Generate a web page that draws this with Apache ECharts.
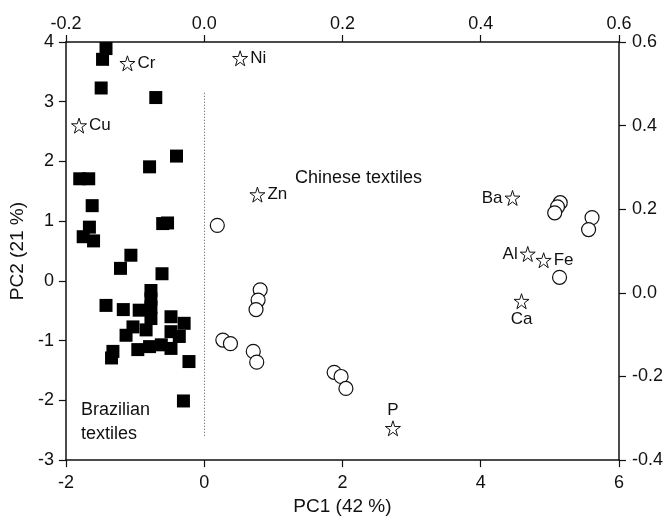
<!DOCTYPE html>
<html>
<head>
<meta charset="utf-8">
<script src="https://cdn.jsdelivr.net/npm/echarts@6/dist/echarts.min.js"></script>
<style>
  html, body { margin: 0; padding: 0; background: #fff; }
  #chart { width: 667px; height: 521px; }
</style>
</head>
<body>
<div id="chart"></div>
<script>
// PCA scores (bottom / left axes)
const brazilPC1 = [-1.42, -1.47, -1.49, -0.70, -0.40, -0.79, -1.80, -1.67, -1.62, -1.66, -1.75, -1.60,
  -0.60, -0.53, -1.06, -1.21, -0.61, -0.77, -1.42, -1.17, -0.94, -0.77, -0.77, -0.77, -0.48, -0.29,
  -1.03, -0.84, -1.13, -0.48, -0.36, -0.96, -0.79, -0.62, -0.48, -1.32, -1.34, -0.22, -0.30];
const brazilPC2 = [3.89, 3.71, 3.23, 3.07, 2.09, 1.91, 1.71, 1.71, 1.26, 0.90, 0.74, 0.67,
  0.96, 0.97, 0.43, 0.21, 0.12, -0.16, -0.41, -0.48, -0.49, -0.44, -0.30, -0.63, -0.60, -0.71,
  -0.77, -0.82, -0.91, -0.85, -0.93, -1.15, -1.10, -1.07, -1.13, -1.18, -1.29, -1.35, -2.01];

const chinaPC1 = [0.19, 0.81, 0.78, 0.75, 0.27, 0.38, 0.71, 0.76, 1.88, 1.98, 2.05,
  5.15, 5.11, 5.07, 5.61, 5.56, 5.14];
const chinaPC2 = [0.93, -0.15, -0.32, -0.48, -0.99, -1.05, -1.18, -1.36, -1.53, -1.60, -1.80,
  1.31, 1.24, 1.14, 1.06, 0.86, 0.06];

// loadings (top / right axes)
const elements = ['Cr', 'Cu', 'Ni', 'Zn', 'P', 'Ba', 'Al', 'Fe', 'Ca'];
const loadX = [-0.111, -0.181, 0.052, 0.077, 0.273, 0.446, 0.468, 0.491, 0.459];
const loadY = [0.549, 0.400, 0.561, 0.235, -0.324, 0.227, 0.093, 0.078, -0.020];
const labelPos = ['right', 'right', 'right', 'right', 'top', 'left', 'left', 'right', 'bottom'];

const xTicksBottom = [-2, 6, 2];
const xTicksTop = [-0.2, 0.6, 0.2];
const yTicksLeft = [-3, 4, 1];
const yTicksRight = [-0.4, 0.6, 0.2];

const star = 'path://M50,2 L61,36 L97,36 L68,57 L79,92 L50,71 L21,92 L32,57 L3,36 L39,36 Z';
const font = 'Liberation Sans, Arial, sans-serif';
const ink = '#111';

function axis(extra, margin, decimals) {
  return Object.assign({
    type: 'value',
    axisLine: { onZero: false, lineStyle: { color: ink, width: 1.5 } },
    axisTick: { inside: false, length: 7, lineStyle: { color: ink, width: 1.2 } },
    splitLine: { show: false },
    axisLabel: {
      color: ink, fontSize: 18, fontFamily: font, margin: margin,
      formatter: v => v.toFixed(decimals)
    }
  }, extra);
}

const chart = echarts.init(document.getElementById('chart'));
chart.setOption({
  animation: false,
  grid: { left: 64, right: 48, top: 42, bottom: 56 },
  xAxis: [
    axis({
      position: 'bottom',
      min: xTicksBottom[0], max: xTicksBottom[1], interval: xTicksBottom[2],
      name: 'PC1 (42 %)', nameLocation: 'middle', nameGap: 35,
      nameTextStyle: { color: ink, fontSize: 19, fontFamily: font }
    }, 14, 0),
    axis({
      position: 'top',
      min: xTicksTop[0], max: xTicksTop[1], interval: xTicksTop[2]
    }, 9, 1)
  ],
  yAxis: [
    axis({
      position: 'left',
      min: yTicksLeft[0], max: yTicksLeft[1], interval: yTicksLeft[2],
      name: 'PC2 (21 %)', nameLocation: 'middle', nameGap: 38,
      nameTextStyle: { color: ink, fontSize: 19, fontFamily: font }
    }, 12, 0),
    axis({
      position: 'right',
      min: yTicksRight[0], max: yTicksRight[1], interval: yTicksRight[2]
    }, 13, 1)
  ],
  series: [
    {
      name: 'Brazilian', type: 'scatter', xAxisIndex: 0, yAxisIndex: 0,
      symbol: 'rect', symbolSize: 13,
      itemStyle: { color: '#000', opacity: 1 },
      data: brazilPC1.map((x, i) => [x, brazilPC2[i]]),
      markLine: {
        silent: true, symbol: 'none', label: { show: false },
        lineStyle: { type: [1, 2], color: '#555', width: 1, opacity: 1 },
        data: [[{ coord: [0, 3.15] }, { coord: [0, -2.6] }]]
      }
    },
    {
      name: 'Chinese', type: 'scatter', xAxisIndex: 0, yAxisIndex: 0,
      symbol: 'circle', symbolSize: 14,
      itemStyle: { color: '#fff', borderColor: ink, borderWidth: 1.2, opacity: 1 },
      data: chinaPC1.map((x, i) => [x, chinaPC2[i]])
    },
    {
      name: 'Loadings', type: 'scatter', xAxisIndex: 1, yAxisIndex: 1,
      symbol: star, symbolSize: 15,
      itemStyle: { color: '#fff', borderColor: ink, borderWidth: 1, opacity: 1 },
      data: elements.map((n, i) => ({
        name: n, value: [loadX[i], loadY[i]],
        label: { position: labelPos[i] }
      })),
      label: {
        show: true, formatter: '{b}', color: ink, fontSize: 17,
        fontFamily: font, distance: 2
      }
    }
  ],
  graphic: [
    { type: 'text', left: 295, top: 169,
      style: { text: 'Chinese textiles', fill: ink, font: '18px ' + font } },
    { type: 'text', left: 81, top: 398,
      style: { text: 'Brazilian\ntextiles', fill: ink, font: '18px ' + font, lineHeight: 24 } }
  ]
});
</script>
</body>
</html>
